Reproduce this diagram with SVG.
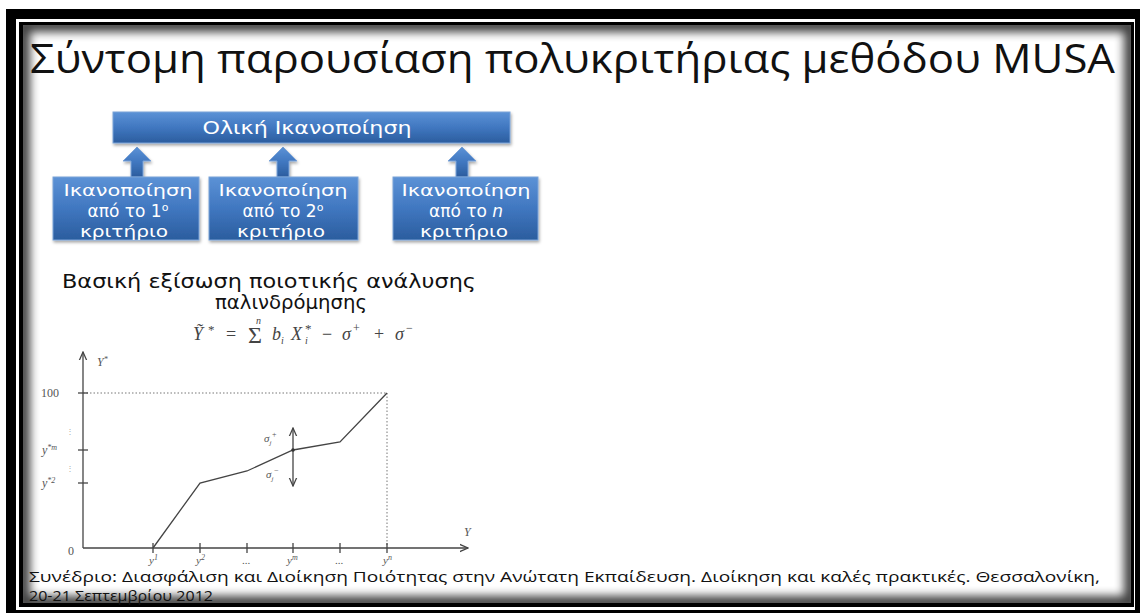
<svg xmlns="http://www.w3.org/2000/svg" width="1140" height="616" viewBox="0 0 1140 616">
<defs>
<style>
.box{fill:url(#blue);stroke:#7aa3d8;stroke-width:1}
.bt{fill:#ffffff;font-family:"DejaVu Sans","Liberation Sans",sans-serif;font-size:16px;text-anchor:middle}
.title{fill:#111;font-family:"Open Sans","Liberation Sans",sans-serif;font-size:40px}
.sub{fill:#111;font-family:"DejaVu Sans","Liberation Sans",sans-serif;font-size:19px;text-anchor:middle}
.foot{fill:#111;font-family:"Open Sans","Liberation Sans",sans-serif;font-size:15px}
.ct{fill:#555;font-family:"Liberation Serif","DejaVu Serif",serif;font-style:italic;font-size:11px}
.cn{fill:#555;font-family:"Liberation Serif","DejaVu Serif",serif;font-size:11px}
.fm{fill:#444;font-family:"Liberation Serif","DejaVu Serif",serif;font-style:italic;font-size:18px}
.up{font-style:normal}
.ax{stroke:#444;stroke-width:1.3;fill:none}
.dot{stroke:#777;stroke-width:1;stroke-dasharray:1.5 2;fill:none}
</style>
<linearGradient id="blue" x1="0" y1="0" x2="0" y2="1">
<stop offset="0" stop-color="#5c92d6"/>
<stop offset="0.5" stop-color="#4077c0"/>
<stop offset="1" stop-color="#2b5d9e"/>
</linearGradient>
<filter id="sh" x="-10%" y="-10%" width="120%" height="130%">
<feDropShadow dx="1" dy="2" stdDeviation="1.5" flood-color="#000" flood-opacity="0.35"/>
</filter>
<filter id="blur" x="-5%" y="-5%" width="110%" height="110%">
<feGaussianBlur stdDeviation="5"/>
</filter>
<clipPath id="inner"><rect x="23" y="25" width="1108" height="578"/></clipPath>
<marker id="ah" viewBox="0 0 10 10" refX="9" refY="5" markerWidth="7" markerHeight="7" orient="auto-start-reverse">
<path d="M0,1 L9,5 L0,9" fill="none" stroke="#444" stroke-width="1.4"/>
</marker>
</defs>

<g id="frame">
<rect x="0" y="0" width="1140" height="616" fill="#ffffff"/>
<rect x="6" y="9" width="1134" height="604" fill="#000"/>
<rect x="16" y="19" width="1119" height="591" fill="#fff"/>
<rect x="19" y="22" width="1115" height="585" fill="#000"/>
<rect x="23" y="25" width="1108" height="578" fill="#fff"/>
<g clip-path="url(#inner)">
<rect x="23" y="25" width="1108" height="578" fill="none" stroke="#000" stroke-width="14" opacity="0.75" filter="url(#blur)"/>
</g>
</g>

<g id="title">
<text class="title" x="30" y="73" textLength="1085" lengthAdjust="spacingAndGlyphs">Σύντομη παρουσίαση πολυκριτήριας μεθόδου MUSA</text>
</g>

<g id="connectors" fill="url(#blue)" stroke="#7aa3d8" stroke-width="1" filter="url(#sh)">
<path d="M137,147 L151,161 L143,161 L143,177 L131,177 L131,161 L123,161 Z"/>
<path d="M283,147 L297,161 L289,161 L289,177 L277,177 L277,161 L269,161 Z"/>
<path d="M462,147 L476,161 L468,161 L468,177 L456,177 L456,161 L448,161 Z"/>
</g>

<g id="node-total">
<rect class="box" x="113" y="112" width="397" height="31" filter="url(#sh)"/>
<text class="bt" x="307" y="134" style="font-size:18px" textLength="209" lengthAdjust="spacingAndGlyphs">Ολική Ικανοποίηση</text>
</g>

<g id="node-c1">
<rect class="box" x="53" y="177" width="146" height="63" filter="url(#sh)"/>
<text class="bt" x="128" y="196" textLength="129" lengthAdjust="spacingAndGlyphs">Ικανοποίηση</text>
<text class="bt" x="128" y="217" style="font-size:17px">από το 1<tspan style="font-size:11px" baseline-shift="super">ο</tspan></text>
<text class="bt" x="124" y="237" textLength="88" lengthAdjust="spacingAndGlyphs">κριτήριο</text>
</g>

<g id="node-c2">
<rect class="box" x="209" y="177" width="149" height="63" filter="url(#sh)"/>
<text class="bt" x="283" y="196" textLength="129" lengthAdjust="spacingAndGlyphs">Ικανοποίηση</text>
<text class="bt" x="283" y="217" style="font-size:17px">από το 2<tspan style="font-size:11px" baseline-shift="super">ο</tspan></text>
<text class="bt" x="281" y="237" textLength="88" lengthAdjust="spacingAndGlyphs">κριτήριο</text>
</g>

<g id="node-cn">
<rect class="box" x="393" y="177" width="145" height="63" filter="url(#sh)"/>
<text class="bt" x="466" y="196" textLength="129" lengthAdjust="spacingAndGlyphs">Ικανοποίηση</text>
<text class="bt" x="466" y="217" style="font-size:17px">από το <tspan font-style="italic">n</tspan></text>
<text class="bt" x="464" y="237" textLength="88" lengthAdjust="spacingAndGlyphs">κριτήριο</text>
</g>

<g id="subtitle">
<text class="sub" x="269" y="288" textLength="414" lengthAdjust="spacingAndGlyphs">Βασική εξίσωση ποιοτικής ανάλυσης</text>
<text class="sub" x="291" y="309" textLength="152" lengthAdjust="spacingAndGlyphs">παλινδρόμησης</text>
</g>

<g id="formula">
<text class="fm" x="193" y="340">Ỹ<tspan class="up" x="208" dy="-6" style="font-size:13px">*</tspan><tspan class="up" x="226" dy="6">=</tspan><tspan class="up" x="248" dy="3" style="font-size:24px">Σ</tspan><tspan x="256" dy="-19" style="font-size:10px">n</tspan><tspan x="272" dy="16">b</tspan><tspan x="281" dy="4" style="font-size:10px">i</tspan><tspan x="291" dy="-4">X</tspan><tspan x="305" dy="4" style="font-size:10px">i</tspan><tspan class="up" x="305" dy="-11" style="font-size:13px">*</tspan><tspan class="up" x="322" dy="7">−</tspan><tspan x="342">σ</tspan><tspan class="up" x="353" dy="-8" style="font-size:12px">+</tspan><tspan class="up" x="374" dy="8">+</tspan><tspan x="395">σ</tspan><tspan class="up" x="406" dy="-8" style="font-size:12px">−</tspan></text>
</g>

<g id="chart">
<line class="ax" x1="83" y1="548" x2="83" y2="352" marker-end="url(#ah)"/>
<line class="ax" x1="83" y1="548" x2="468" y2="548" marker-end="url(#ah)"/>
<line class="dot" x1="83" y1="393" x2="387" y2="393"/>
<line class="dot" x1="387" y1="393" x2="387" y2="548"/>
<g class="ax">
<line x1="78" y1="393" x2="88" y2="393"/>
<line x1="78" y1="450" x2="88" y2="450"/>
<line x1="78" y1="483" x2="88" y2="483"/>
<line x1="153" y1="543" x2="153" y2="553"/>
<line x1="200" y1="543" x2="200" y2="553"/>
<line x1="247" y1="543" x2="247" y2="553"/>
<line x1="293" y1="543" x2="293" y2="553"/>
<line x1="340" y1="543" x2="340" y2="553"/>
<line x1="387" y1="543" x2="387" y2="553"/>
</g>
<polyline class="ax" points="153,548 200,483 247,471 293,450 340,442 387,393"/>
<line class="ax" x1="293" y1="450" x2="293" y2="428" marker-end="url(#ah)"/>
<line class="ax" x1="293" y1="450" x2="293" y2="486" marker-end="url(#ah)"/>
<circle cx="293" cy="450" r="1.8" fill="#333"/>
<text class="ct" x="97" y="366" style="font-size:12px">Y<tspan style="font-size:8px" dy="-4">*</tspan></text>
<text class="cn" x="41" y="397" style="font-size:12px">100</text>
<text class="cn" x="66" y="434" style="font-size:8px;fill:#aaa">⋮</text>
<text class="ct" x="42" y="454" style="font-size:12px">y<tspan style="font-size:8px" dy="-4">*m</tspan></text>
<text class="cn" x="66" y="471" style="font-size:8px;fill:#aaa">⋮</text>
<text class="ct" x="42" y="487" style="font-size:12px">y<tspan style="font-size:8px" dy="-4">*2</tspan></text>
<text class="cn" x="68" y="555" style="font-size:12px">0</text>
<text class="ct" x="464" y="536" style="font-size:12px">Y</text>
<text class="ct" x="264" y="442">σ<tspan style="font-size:7px" dy="3">j</tspan><tspan style="font-size:8px" dy="-8">+</tspan></text>
<text class="ct" x="266" y="478">σ<tspan style="font-size:7px" dy="3">j</tspan><tspan style="font-size:8px" dy="-8">−</tspan></text>
<text class="ct" x="149" y="564">y<tspan style="font-size:8px" dy="-4">1</tspan></text>
<text class="ct" x="196" y="564">y<tspan style="font-size:8px" dy="-4">2</tspan></text>
<text class="cn" x="242" y="564">...</text>
<text class="ct" x="287" y="564">y<tspan style="font-size:8px" dy="-4">m</tspan></text>
<text class="cn" x="335" y="564">...</text>
<text class="ct" x="383" y="564">y<tspan style="font-size:8px" dy="-4">n</tspan></text>
</g>

<g id="footer">
<text class="foot" x="29" y="582" textLength="1071" lengthAdjust="spacingAndGlyphs">Συνέδριο: Διασφάλιση και Διοίκηση Ποιότητας στην Ανώτατη Εκπαίδευση. Διοίκηση και καλές πρακτικές. Θεσσαλονίκη,</text>
<text class="foot" x="29" y="601" textLength="184" lengthAdjust="spacingAndGlyphs">20-21 Σεπτεμβρίου 2012</text>
</g>
</svg>
